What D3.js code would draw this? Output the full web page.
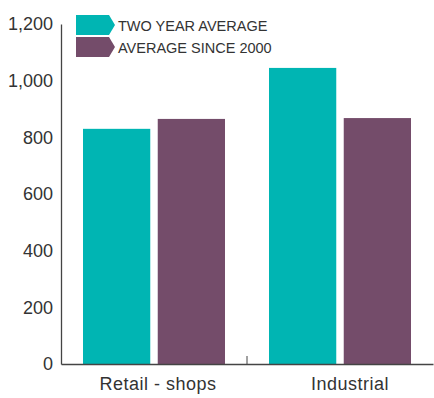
<!DOCTYPE html>
<html><head><meta charset="utf-8">
<script src="https://cdn.jsdelivr.net/npm/d3@7"></script>
<style>body{margin:0;background:#fff}svg{display:block}text{font-family:"Liberation Sans",Arial,sans-serif}</style>
</head><body><svg width="434" height="398"></svg>
<script>
const categories = ["Retail - shops", "Industrial"];
const seriesNames = ["TWO YEAR AVERAGE", "AVERAGE SINCE 2000"];
const twoYearAverage = [830, 1045];
const averageSince2000 = [865, 868];
const yTicks = [0, 200, 400, 600, 800, 1000, 1200];
const colors = ["#00b5b3", "#744c6a"];

(function () {
const svg = d3.select("svg");
const mLeft = 61, mRight = 433, mTop = 24, mBottom = 364;
const x = d3.scaleBand().domain(categories).range([mLeft, mRight]).paddingInner(0).paddingOuter(0);
const x1 = d3.scaleBand().domain(seriesNames).range([22, 186 - 22]).paddingInner(0.1);
const y = d3.scaleLinear().domain([0, 1200]).range([mBottom, mTop]);
const values = [twoYearAverage, averageSince2000];

categories.forEach((c, i) => {
  seriesNames.forEach((s, j) => {
    svg.append("rect")
      .attr("x", x(c) + x1(s))
      .attr("y", y(values[j][i]))
      .attr("width", x1.bandwidth())
      .attr("height", y(0) - y(values[j][i]))
      .attr("fill", colors[j]);
  });
});

// y axis
const ya = svg.append("g").attr("transform", `translate(${mLeft},0)`)
  .call(d3.axisLeft(y).tickValues(yTicks).tickSize(0).tickPadding(8).tickFormat(d3.format(",")));
ya.select(".domain").attr("stroke", "#444").attr("stroke-width", 1.3);
ya.selectAll("text").attr("font-size", 18).attr("fill", "#333");

// x axis
const xa = svg.append("g").attr("transform", `translate(0,${mBottom})`)
  .call(d3.axisBottom(x).tickSize(0).tickPadding(13));
xa.select(".domain").attr("stroke", "#444").attr("stroke-width", 1.3);
xa.selectAll("text").attr("font-size", 18).attr("fill", "#333")
  .attr("letter-spacing", 0.5).attr("dx", (d, i) => i ? 10 : 4);
// middle divider tick
svg.append("line").attr("x1", x(categories[1])).attr("x2", x(categories[1]))
  .attr("y1", mBottom - 8).attr("y2", mBottom).attr("stroke", "#444").attr("stroke-width", 1);

// legend
const lg = svg.append("g");
seriesNames.forEach((s, j) => {
  const y0 = 15 + j * 22;
  lg.append("path")
    .attr("d", `M76,${y0} L109,${y0} L115,${y0 + 10} L109,${y0 + 20} L76,${y0 + 20} Z`)
    .attr("fill", colors[j]);
  lg.append("text").attr("x", 118).attr("y", y0 + 16)
    .attr("font-size", 14.5).attr("fill", "#333").text(s);
});
})();
</script></body></html>
